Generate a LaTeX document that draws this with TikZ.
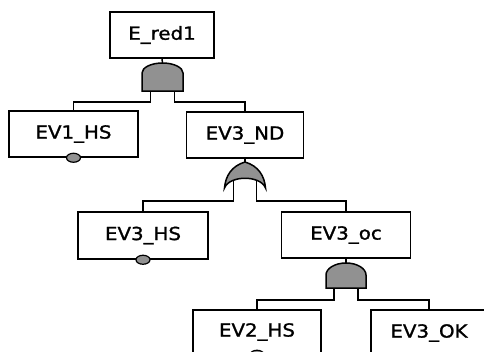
\documentclass[tikz,border=0pt]{standalone}
\usepackage{fontspec}
\setmainfont{DejaVu Sans}[FakeStretch=1.1, FakeBold=1.3]
\usetikzlibrary{shapes.geometric}
\definecolor{gatefill}{RGB}{145,145,145}

\begin{document}
\begin{tikzpicture}[x=1pt, y=-1pt, line width=1.5pt,
  every node/.style={font=\fontsize{18}{21}\selectfont},
  ev/.style={draw, minimum height=46pt, inner sep=0pt},
  mk/.style={draw, ellipse, fill=gatefill, minimum width=14pt, minimum height=9pt, inner sep=0pt, line width=1.2pt},
  gate/.style={draw, fill=gatefill}]
  \useasboundingbox (0,0) rectangle (484,351);
  \clip (0,0) rectangle (484,351);
  % events
  \node[ev, minimum width=104pt] (ered1) at (162,35) {E\_red1};
  \node[ev, minimum width=129pt] (ev1hs) at (73.5,134) {EV1\_HS};
  \node[ev, minimum width=117pt] (ev3nd) at (245,135) {EV3\_ND};
  \node[ev, minimum width=130pt, minimum height=47pt] (ev3hs) at (143,235.5) {EV3\_HS};
  \node[ev, minimum width=129pt] (ev3oc) at (346,235) {EV3\_oc};
  \node[ev, minimum width=128pt, minimum height=44pt] (ev2hs) at (257,332) {EV2\_HS};
  \node[ev, minimum width=116pt] (ev3ok) at (429,333) {EV3\_OK};
  \node[mk] (m1) at (ev1hs.south) {};
  \node[mk] (m2) at (ev3hs.south) {};
  \node[mk] (m3) at (ev2hs.south) {};
  % gate ends
  \coordinate (a1in) at (162.5,63);
  \coordinate (a1l) at (150.5,91);
  \coordinate (a1r) at (174.5,91);
  \coordinate (o1in) at (245,162);
  \coordinate (o1l) at (233.5,181);
  \coordinate (o1r) at (256.5,181);
  \coordinate (a2in) at (346,263);
  \coordinate (a2l) at (334,288);
  \coordinate (a2r) at (358,288);
  % connectors
  \draw (ered1.south) -- (a1in);
  \draw (a1l) -- ++(0,11) -| (ev1hs.north);
  \draw (a1r) -- ++(0,11) -| (ev3nd.north);
  \draw (ev3nd.south) -- (o1in);
  \draw (o1l) -- ++(0,20) -| (ev3hs.north);
  \draw (o1r) -- ++(0,20) -| (ev3oc.north);
  \draw (ev3oc.south) -- (a2in);
  \draw (a2l) -- ++(0,12) -| (ev2hs.north);
  \draw (a2r) -- ++(0,12) -| (ev3ok.north);
  % gates
  \draw[gate] (142,91) -- ++(0,-18) .. controls +(0,-5.5) and +(-11.3,0) .. ++(20.5,-10)
    .. controls +(11.3,0) and +(0,-5.5) .. ++(20.5,10) -- ++(0,18) -- cycle;
  \draw[gate] (o1in) .. controls (258.5,166) and (264.5,176) .. (265.5,188)
    .. controls (260.5,175) and (229.5,175) .. (224.5,188)
    .. controls (225.5,176) and (231.5,166) .. (o1in) -- cycle;
  \draw[gate] (326,288) -- ++(0,-13) .. controls +(0,-6.6) and +(-11,0) .. ++(20,-12)
    .. controls +(11,0) and +(0,-6.6) .. ++(20,12) -- ++(0,13) -- cycle;
\end{tikzpicture}
\end{document}
